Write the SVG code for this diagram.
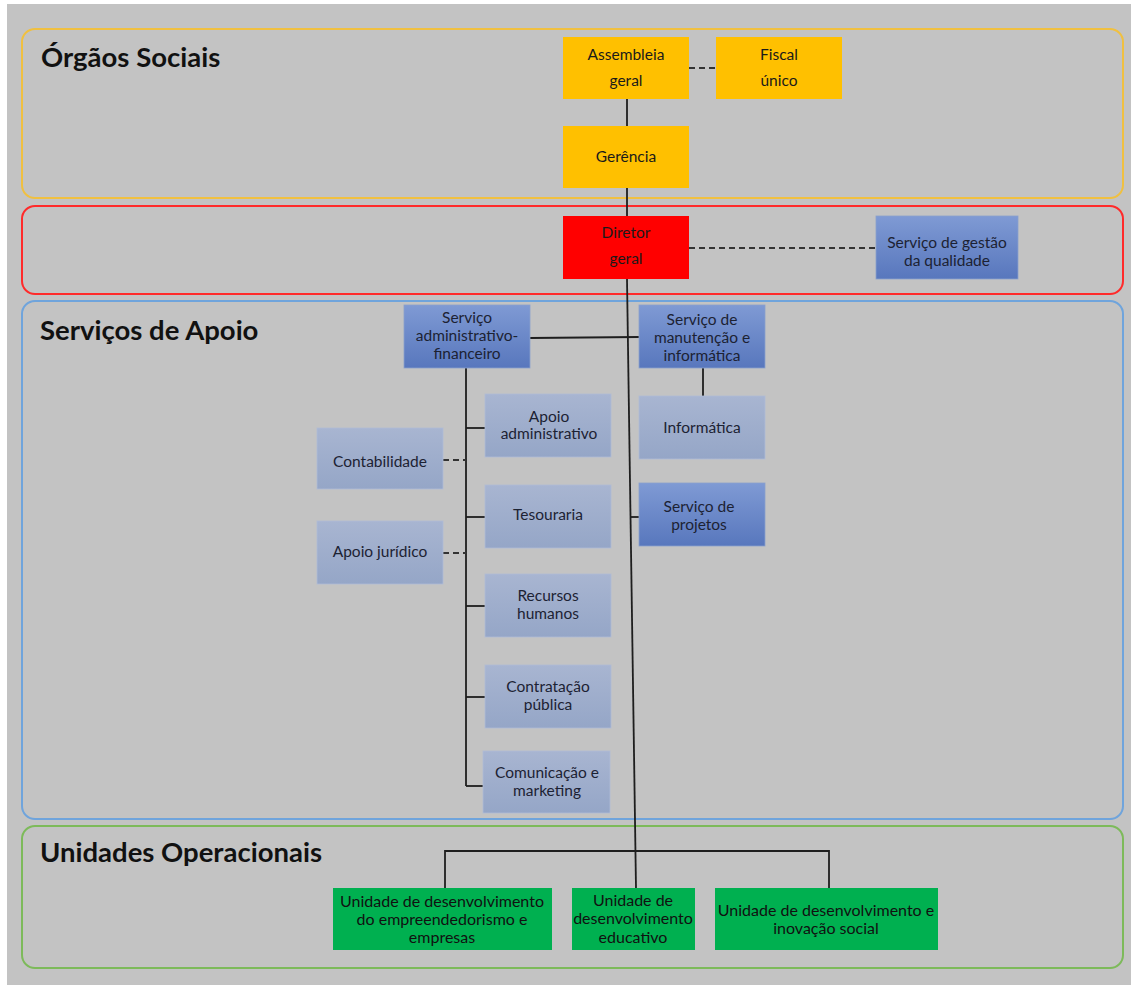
<svg xmlns="http://www.w3.org/2000/svg" width="1134" height="985" viewBox="0 0 1134 985">
<defs>
<linearGradient id="gDark" x1="0" y1="0" x2="0" y2="1"><stop offset="0" stop-color="#7f9ad4"/><stop offset="1" stop-color="#5877bd"/></linearGradient>
<linearGradient id="gLight" x1="0" y1="0" x2="0" y2="1"><stop offset="0" stop-color="#a8b5d1"/><stop offset="1" stop-color="#95a6c7"/></linearGradient>
<style>
.title{font-family:Lato,"Liberation Sans",sans-serif;font-weight:bold;font-size:27.5px;fill:#111}
.t{font-family:Lato,"Liberation Sans",sans-serif;font-size:15.5px;fill:#1a1a1a;text-anchor:middle}
.tu{font-family:Lato,"Liberation Sans",sans-serif;font-size:16px;fill:#111;text-anchor:middle}
.tb{font-family:Lato,"Liberation Sans",sans-serif;font-size:15.5px;fill:#1c2233;text-anchor:middle}
.panel{fill:none;stroke-width:2}
.yel{fill:#ffc000}
.red{fill:#ff0000}
.grn{fill:#00b050}
.dk{fill:url(#gDark);stroke:#8aa0cc;stroke-width:0.8}
.lt{fill:url(#gLight);stroke:#b0bcd6;stroke-width:0.8}
.ln{stroke:#1e1e1e;stroke-width:1.8;fill:none}
.dash{stroke:#333;stroke-width:1.8;fill:none;stroke-dasharray:6,4}
</style>
</defs>
<rect x="0" y="0" width="1134" height="985" fill="#ffffff"/>
<rect x="7" y="4" width="1124" height="981" fill="#c3c3c3"/>

<g id="panels">
<rect class="panel" x="22" y="29" width="1101" height="169" rx="13" stroke="#f0c040"/>
<rect class="panel" x="22" y="206" width="1101" height="88" rx="13" stroke="#ff2a2a"/>
<rect class="panel" x="22" y="301" width="1101" height="518" rx="13" stroke="#6fa4dc"/>
<rect class="panel" x="22" y="826" width="1101" height="142" rx="13" stroke="#7dba5a"/>
<text class="title" x="41" y="67">Órgãos Sociais</text>
<text class="title" x="40" y="340">Serviços de Apoio</text>
<text class="title" x="40" y="862">Unidades Operacionais</text>
</g>

<g id="connectors">
<line class="ln" x1="627" y1="99" x2="627" y2="126"/>
<line class="ln" x1="627" y1="188" x2="627" y2="216"/>
<line class="ln" x1="627" y1="279" x2="636" y2="888"/>
<line class="dash" x1="689" y1="68" x2="716" y2="68"/>
<line class="dash" x1="689" y1="248" x2="876" y2="248"/>
<line class="ln" x1="530" y1="338" x2="639" y2="337"/>
<line class="ln" x1="703" y1="368" x2="703" y2="396"/>
<line class="ln" x1="630" y1="517" x2="639" y2="517"/>
<line class="ln" x1="466" y1="368" x2="466" y2="786"/>
<line class="ln" x1="466" y1="428" x2="485" y2="428"/>
<line class="ln" x1="466" y1="517" x2="485" y2="517"/>
<line class="ln" x1="466" y1="606" x2="485" y2="606"/>
<line class="ln" x1="466" y1="697" x2="485" y2="697"/>
<line class="ln" x1="466" y1="786" x2="483" y2="786"/>
<line class="dash" x1="443" y1="460" x2="466" y2="460"/>
<line class="dash" x1="443" y1="553" x2="466" y2="553"/>
<polyline class="ln" points="445,888 445,851 829,851 829,888"/>
</g>

<g id="assembleia"><rect class="yel" x="563" y="37" width="126" height="62"/><text class="t" x="626" y="60">Assembleia</text><text class="t" x="626" y="86">geral</text></g>
<g id="fiscal"><rect class="yel" x="716" y="37" width="126" height="62"/><text class="t" x="779" y="60">Fiscal</text><text class="t" x="779" y="86">único</text></g>
<g id="gerencia"><rect class="yel" x="563" y="126" width="126" height="62"/><text class="t" x="626" y="162">Gerência</text></g>
<g id="diretor"><rect class="red" x="563" y="216" width="126" height="63"/><text class="t" x="626" y="238">Diretor</text><text class="t" x="626" y="264">geral</text></g>
<g id="qualidade"><rect class="dk" x="876" y="216" width="142" height="63"/><text class="tb" x="947" y="248">Serviço de gestão</text><text class="tb" x="947" y="266">da qualidade</text></g>

<g id="saf"><rect class="dk" x="404" y="305" width="126" height="63"/><text class="tb" x="467" y="323">Serviço</text><text class="tb" x="467" y="341">administrativo-</text><text class="tb" x="467" y="359">financeiro</text></g>
<g id="smi"><rect class="dk" x="639" y="305" width="126" height="63"/><text class="tb" x="702" y="325">Serviço de</text><text class="tb" x="702" y="343">manutenção e</text><text class="tb" x="702" y="361">informática</text></g>
<g id="informatica"><rect class="lt" x="639" y="396" width="126" height="63"/><text class="tb" x="702" y="433">Informática</text></g>
<g id="projetos"><rect class="dk" x="639" y="483" width="126" height="63"/><text class="tb" x="699" y="512">Serviço de</text><text class="tb" x="699" y="530">projetos</text></g>

<g id="apoioadm"><rect class="lt" x="485" y="394" width="126" height="63"/><text class="tb" x="549" y="422">Apoio</text><text class="tb" x="549" y="439">administrativo</text></g>
<g id="contabilidade"><rect class="lt" x="317" y="428" width="126" height="61"/><text class="tb" x="380" y="467">Contabilidade</text></g>
<g id="tesouraria"><rect class="lt" x="485" y="485" width="126" height="63"/><text class="tb" x="548" y="520">Tesouraria</text></g>
<g id="juridico"><rect class="lt" x="317" y="521" width="126" height="63"/><text class="tb" x="380" y="557">Apoio jurídico</text></g>
<g id="rh"><rect class="lt" x="485" y="574" width="126" height="63"/><text class="tb" x="548" y="601">Recursos</text><text class="tb" x="548" y="619">humanos</text></g>
<g id="contratacao"><rect class="lt" x="485" y="665" width="126" height="63"/><text class="tb" x="548" y="692">Contratação</text><text class="tb" x="548" y="710">pública</text></g>
<g id="comunicacao"><rect class="lt" x="483" y="751" width="127" height="62"/><text class="tb" x="547" y="778">Comunicação e</text><text class="tb" x="547" y="796">marketing</text></g>

<g id="ude"><rect class="grn" x="333" y="888" width="219" height="62"/><text class="tu" x="442" y="907">Unidade de desenvolvimento</text><text class="tu" x="442" y="925">do empreendedorismo e</text><text class="tu" x="442" y="943">empresas</text></g>
<g id="udeduc"><rect class="grn" x="572" y="888" width="123" height="62"/><text class="tu" x="633" y="906">Unidade de</text><text class="tu" x="633" y="924">desenvolvimento</text><text class="tu" x="633" y="943">educativo</text></g>
<g id="udis"><rect class="grn" x="715" y="888" width="223" height="62"/><text class="tu" x="826" y="916">Unidade de desenvolvimento e</text><text class="tu" x="826" y="934">inovação social</text></g>
</svg>
